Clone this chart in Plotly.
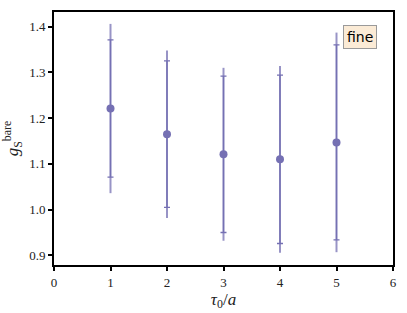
import plotly.graph_objects as go

tau = [1, 2, 3, 4, 5]
g_bare = [1.221, 1.165, 1.121, 1.110, 1.147]
err_stat = [0.150, 0.160, 0.171, 0.184, 0.213]
err_tot = [0.185, 0.183, 0.189, 0.204, 0.240]
label = "fine"

color = "#7570b3"
serif = "Liberation Serif"

fig = go.Figure()
fig.add_trace(go.Scatter(
    x=tau, y=g_bare, mode="markers",
    marker=dict(size=0.1, color="rgba(0,0,0,0)"),
    error_y=dict(type="data", array=err_tot, symmetric=True,
                 color="rgba(117,112,179,0.75)", thickness=2, width=0),
    showlegend=False, hoverinfo="skip"))
fig.add_trace(go.Scatter(
    x=tau, y=g_bare, mode="markers",
    marker=dict(size=8, color=color),
    error_y=dict(type="data", array=err_stat, symmetric=True,
                 color=color, thickness=1.3, width=3),
    showlegend=False))

fig.add_annotation(
    x=0.953, y=0.949, xref="paper", yref="paper", xanchor="right", yanchor="top",
    text=label, showarrow=False,
    font=dict(family="DejaVu Sans", size=14, color="black"),
    bgcolor="#fbebd6", bordercolor="#9a9a9a", borderwidth=1, borderpad=3)

axis_font = dict(family=serif, size=13, color="#222")
title_font = dict(family=serif, size=17, color="#222")
fig.update_layout(
    width=407, height=313,
    margin=dict(l=54, r=11, t=10, b=47),
    plot_bgcolor="white", paper_bgcolor="white",
    xaxis=dict(range=[0, 6], tickvals=[0, 1, 2, 3, 4, 5, 6],
               showgrid=False, zeroline=False,
               showline=True, linecolor="black", linewidth=2, mirror=True,
               ticks="outside", ticklen=4, tickcolor="black", tickwidth=1.5,
               tickfont=axis_font,
               title=dict(text="<i>τ</i><sub>0</sub>/<i>a</i>", font=title_font, standoff=2)),
    yaxis=dict(range=[0.879, 1.432], tickvals=[0.9, 1.0, 1.1, 1.2, 1.3, 1.4],
               ticktext=["0.9", "1.0", "1.1", "1.2", "1.3", "1.4"],
               showgrid=False, zeroline=False,
               showline=True, linecolor="black", linewidth=2, mirror=True,
               ticks="outside", ticklen=4, tickcolor="black", tickwidth=1.5,
               tickfont=axis_font,
               title=dict(text="<i>g</i><sub>S</sub><sup>bare</sup>", font=title_font, standoff=6)),
)

fig.write_html("out.html", config={"displayModeBar": False},
               post_script="document.body.style.margin='0';")
